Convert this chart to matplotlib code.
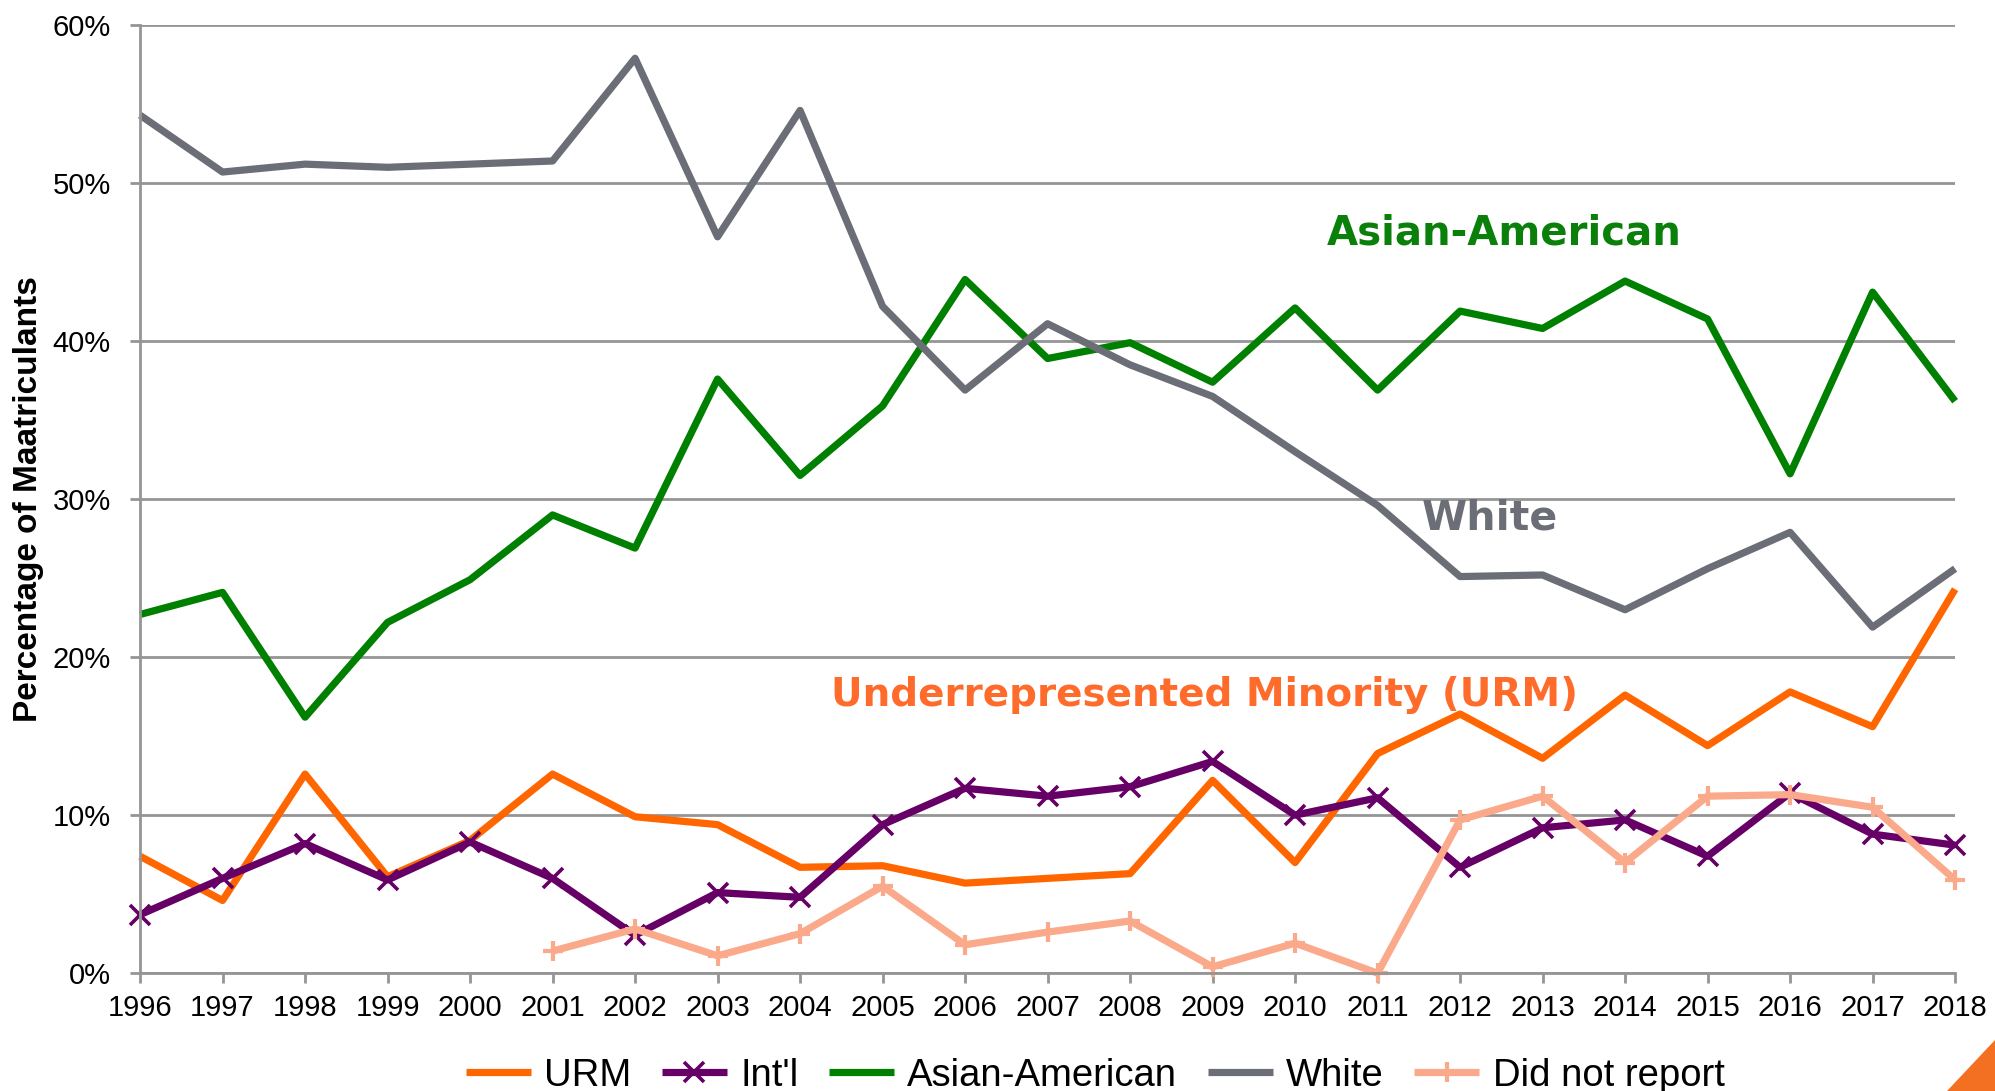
import matplotlib
matplotlib.use("Agg")
import matplotlib.pyplot as plt
from matplotlib.patches import Polygon
from matplotlib.ticker import FuncFormatter

years = list(range(1996, 2019))
urm   = [7.4, 4.6, 12.6, 6.1, 8.4, 12.6, 9.9, 9.4, 6.7, 6.8, 5.7, 6.0, 6.3,
         12.2, 7.0, 13.9, 16.4, 13.6, 17.6, 14.4, 17.8, 15.6, 24.3]
intl  = [3.7, 6.0, 8.2, 5.9, 8.3, 6.0, 2.4, 5.1, 4.8, 9.4, 11.7, 11.2, 11.8,
         13.4, 10.0, 11.1, 6.7, 9.2, 9.7, 7.4, 11.4, 8.8, 8.1]
asian = [22.7, 24.1, 16.2, 22.2, 24.9, 29.0, 26.9, 37.6, 31.5, 35.9, 43.9,
         38.9, 39.9, 37.4, 42.1, 36.9, 41.9, 40.8, 43.8, 41.4, 31.6, 43.1, 36.2]
white = [54.3, 50.7, 51.2, 51.0, 51.2, 51.4, 57.9, 46.6, 54.6, 42.2, 36.9,
         41.1, 38.5, 36.5, 33.0, 29.6, 25.1, 25.2, 23.0, 25.6, 27.9, 21.9, 25.6]
dnr_years = list(range(2001, 2019))
dnr   = [1.4, 2.8, 1.1, 2.5, 5.5, 1.8, 2.6, 3.3, 0.4, 1.9, 0.0, 9.7, 11.2,
         7.0, 11.2, 11.3, 10.5, 5.9]

C_URM   = "#FF6600"
C_INTL  = "#660066"
C_ASIAN = "#008000"
C_WHITE = "#6B6E76"
C_DNR   = "#FBA98B"
C_GRID  = "#959595"

plt.rcParams["font.family"] = ["Liberation Sans", "DejaVu Sans"]

fig = plt.figure(figsize=(19.95, 10.91), dpi=100)
ax = fig.add_axes([0.0702, 0.108, 0.9098, 0.869])

lw = 5.2
common = dict(linewidth=lw, solid_capstyle="butt", clip_on=False)
ax.plot(years, urm, color=C_URM, label="URM", **common)
ax.plot(years, intl, color=C_INTL, marker="x", markersize=15,
        markeredgewidth=2.6, label="Int'l", **common)
ax.plot(years, asian, color=C_ASIAN, label="Asian-American", **common)
ax.plot(years, white, color=C_WHITE, label="White", **common)
ax.plot(dnr_years, dnr, color=C_DNR, marker="+", markersize=14,
        markeredgewidth=3, label="Did not report", **common)

ax.set_xlim(1996, 2018)
ax.set_ylim(0, 60)
ax.set_xticks(years)
ax.set_yticks(range(0, 61, 10))
ax.yaxis.set_major_formatter(FuncFormatter(lambda v, _: f"{int(v)}%"))
ax.tick_params(axis="both", labelsize=21, colors=C_GRID, labelcolor="black",
               width=2, length=7, direction="out")
ax.tick_params(axis="x", pad=8)
ax.tick_params(axis="y", pad=14)

ax.grid(axis="y", color=C_GRID, linewidth=2)
ax.set_axisbelow(True)
for s in ["top", "right"]:
    ax.spines[s].set_visible(False)
for s in ["left", "bottom"]:
    ax.spines[s].set_color(C_GRID)
    ax.spines[s].set_linewidth(2)

ax.set_ylabel("Percentage of Maatriculants", fontsize=24, fontweight="bold",
              va="center")
ax.yaxis.set_label_coords(-0.0617, 0.5)

lab = dict(fontweight="bold", family="DejaVu Sans", va="center", ha="left")
ax.text(2010.39, 46.8, "Asian-American", color="#0A800A", fontsize=29, **lab)
ax.text(2011.53, 28.8, "White", color=C_WHITE, fontsize=29.5, **lab)
ax.text(2004.38, 17.6, "Underrepresented Minority (URM)", color="#FF6B2B",
        fontsize=28, **lab)

fig.legend(loc="center", bbox_to_anchor=(0.549, 0.014), ncol=5, frameon=False,
           fontsize=27.5, handlelength=1.7, handletextpad=0.35, columnspacing=0.8)

fig.patches.append(Polygon([[0.976, 0.0], [1.0, 0.0], [1.0, 0.047]],
                           closed=True, transform=fig.transFigure,
                           facecolor="#F36F21", edgecolor="none"))

fig.savefig("out.png", dpi=100)
